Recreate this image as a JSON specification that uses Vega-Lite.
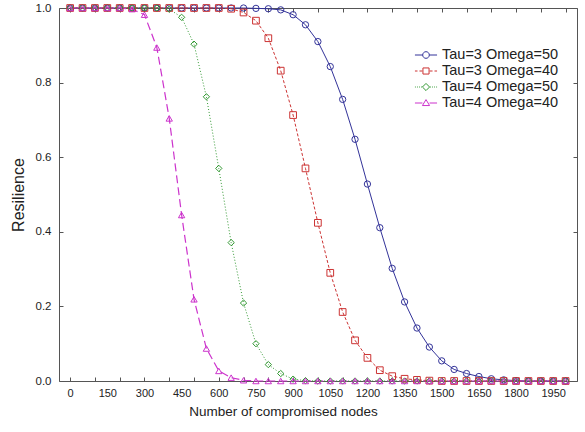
{
  "$schema": "https://vega.github.io/schema/vega-lite/v6.json",
  "width": 518,
  "height": 373,
  "autosize": "none",
  "padding": {"left": 59, "top": 8, "right": 8, "bottom": 51},
  "background": "white",
  "config": {
    "view": {"stroke": "#555555", "strokeWidth": 1},
    "axis": {"grid": false, "domain": false, "tickColor": "#555555", "labelColor": "#222222", "titleColor": "#222222", "labelFont": "Liberation Sans", "labelFontSize": 11, "labelFlush": false, "labelOverlap": false, "titleFontWeight": "normal"}
  },
  "data": {"values": [
    {"nodes":0,"resilience":1,"series":"Tau=3 Omega=50"},{"nodes":50,"resilience":1,"series":"Tau=3 Omega=50"},{"nodes":100,"resilience":1,"series":"Tau=3 Omega=50"},{"nodes":150,"resilience":1,"series":"Tau=3 Omega=50"},{"nodes":200,"resilience":1,"series":"Tau=3 Omega=50"},{"nodes":250,"resilience":1,"series":"Tau=3 Omega=50"},{"nodes":300,"resilience":1,"series":"Tau=3 Omega=50"},{"nodes":350,"resilience":1,"series":"Tau=3 Omega=50"},{"nodes":400,"resilience":1,"series":"Tau=3 Omega=50"},{"nodes":450,"resilience":1,"series":"Tau=3 Omega=50"},{"nodes":500,"resilience":1,"series":"Tau=3 Omega=50"},{"nodes":550,"resilience":1,"series":"Tau=3 Omega=50"},{"nodes":600,"resilience":1,"series":"Tau=3 Omega=50"},{"nodes":650,"resilience":1,"series":"Tau=3 Omega=50"},{"nodes":700,"resilience":1,"series":"Tau=3 Omega=50"},{"nodes":750,"resilience":0.999,"series":"Tau=3 Omega=50"},{"nodes":800,"resilience":0.998,"series":"Tau=3 Omega=50"},{"nodes":850,"resilience":0.995,"series":"Tau=3 Omega=50"},{"nodes":900,"resilience":0.982,"series":"Tau=3 Omega=50"},{"nodes":950,"resilience":0.955,"series":"Tau=3 Omega=50"},{"nodes":1000,"resilience":0.91,"series":"Tau=3 Omega=50"},{"nodes":1050,"resilience":0.843,"series":"Tau=3 Omega=50"},{"nodes":1100,"resilience":0.755,"series":"Tau=3 Omega=50"},{"nodes":1150,"resilience":0.648,"series":"Tau=3 Omega=50"},{"nodes":1200,"resilience":0.528,"series":"Tau=3 Omega=50"},{"nodes":1250,"resilience":0.411,"series":"Tau=3 Omega=50"},{"nodes":1300,"resilience":0.302,"series":"Tau=3 Omega=50"},{"nodes":1350,"resilience":0.212,"series":"Tau=3 Omega=50"},{"nodes":1400,"resilience":0.142,"series":"Tau=3 Omega=50"},{"nodes":1450,"resilience":0.091,"series":"Tau=3 Omega=50"},{"nodes":1500,"resilience":0.054,"series":"Tau=3 Omega=50"},{"nodes":1550,"resilience":0.031,"series":"Tau=3 Omega=50"},{"nodes":1600,"resilience":0.02,"series":"Tau=3 Omega=50"},{"nodes":1650,"resilience":0.012,"series":"Tau=3 Omega=50"},{"nodes":1700,"resilience":0.006,"series":"Tau=3 Omega=50"},{"nodes":1750,"resilience":0.003,"series":"Tau=3 Omega=50"},{"nodes":1800,"resilience":0.001,"series":"Tau=3 Omega=50"},{"nodes":1850,"resilience":0,"series":"Tau=3 Omega=50"},{"nodes":1900,"resilience":0,"series":"Tau=3 Omega=50"},{"nodes":1950,"resilience":0,"series":"Tau=3 Omega=50"},{"nodes":2000,"resilience":0,"series":"Tau=3 Omega=50"},
    {"nodes":0,"resilience":1,"series":"Tau=3 Omega=40"},{"nodes":50,"resilience":1,"series":"Tau=3 Omega=40"},{"nodes":100,"resilience":1,"series":"Tau=3 Omega=40"},{"nodes":150,"resilience":1,"series":"Tau=3 Omega=40"},{"nodes":200,"resilience":1,"series":"Tau=3 Omega=40"},{"nodes":250,"resilience":1,"series":"Tau=3 Omega=40"},{"nodes":300,"resilience":1,"series":"Tau=3 Omega=40"},{"nodes":350,"resilience":1,"series":"Tau=3 Omega=40"},{"nodes":400,"resilience":1,"series":"Tau=3 Omega=40"},{"nodes":450,"resilience":1,"series":"Tau=3 Omega=40"},{"nodes":500,"resilience":1,"series":"Tau=3 Omega=40"},{"nodes":550,"resilience":1,"series":"Tau=3 Omega=40"},{"nodes":600,"resilience":1,"series":"Tau=3 Omega=40"},{"nodes":650,"resilience":0.998,"series":"Tau=3 Omega=40"},{"nodes":700,"resilience":0.988,"series":"Tau=3 Omega=40"},{"nodes":750,"resilience":0.966,"series":"Tau=3 Omega=40"},{"nodes":800,"resilience":0.919,"series":"Tau=3 Omega=40"},{"nodes":850,"resilience":0.832,"series":"Tau=3 Omega=40"},{"nodes":900,"resilience":0.713,"series":"Tau=3 Omega=40"},{"nodes":950,"resilience":0.57,"series":"Tau=3 Omega=40"},{"nodes":1000,"resilience":0.424,"series":"Tau=3 Omega=40"},{"nodes":1050,"resilience":0.29,"series":"Tau=3 Omega=40"},{"nodes":1100,"resilience":0.185,"series":"Tau=3 Omega=40"},{"nodes":1150,"resilience":0.109,"series":"Tau=3 Omega=40"},{"nodes":1200,"resilience":0.062,"series":"Tau=3 Omega=40"},{"nodes":1250,"resilience":0.029,"series":"Tau=3 Omega=40"},{"nodes":1300,"resilience":0.013,"series":"Tau=3 Omega=40"},{"nodes":1350,"resilience":0.006,"series":"Tau=3 Omega=40"},{"nodes":1400,"resilience":0.003,"series":"Tau=3 Omega=40"},{"nodes":1450,"resilience":0.001,"series":"Tau=3 Omega=40"},{"nodes":1500,"resilience":0,"series":"Tau=3 Omega=40"},{"nodes":1550,"resilience":0,"series":"Tau=3 Omega=40"},{"nodes":1600,"resilience":0,"series":"Tau=3 Omega=40"},{"nodes":1650,"resilience":0,"series":"Tau=3 Omega=40"},{"nodes":1700,"resilience":0,"series":"Tau=3 Omega=40"},{"nodes":1750,"resilience":0,"series":"Tau=3 Omega=40"},{"nodes":1800,"resilience":0,"series":"Tau=3 Omega=40"},{"nodes":1850,"resilience":0,"series":"Tau=3 Omega=40"},{"nodes":1900,"resilience":0,"series":"Tau=3 Omega=40"},{"nodes":1950,"resilience":0,"series":"Tau=3 Omega=40"},{"nodes":2000,"resilience":0,"series":"Tau=3 Omega=40"},
    {"nodes":0,"resilience":1,"series":"Tau=4 Omega=50"},{"nodes":50,"resilience":1,"series":"Tau=4 Omega=50"},{"nodes":100,"resilience":1,"series":"Tau=4 Omega=50"},{"nodes":150,"resilience":1,"series":"Tau=4 Omega=50"},{"nodes":200,"resilience":1,"series":"Tau=4 Omega=50"},{"nodes":250,"resilience":1,"series":"Tau=4 Omega=50"},{"nodes":300,"resilience":1,"series":"Tau=4 Omega=50"},{"nodes":350,"resilience":1,"series":"Tau=4 Omega=50"},{"nodes":400,"resilience":0.997,"series":"Tau=4 Omega=50"},{"nodes":450,"resilience":0.975,"series":"Tau=4 Omega=50"},{"nodes":500,"resilience":0.903,"series":"Tau=4 Omega=50"},{"nodes":550,"resilience":0.762,"series":"Tau=4 Omega=50"},{"nodes":600,"resilience":0.57,"series":"Tau=4 Omega=50"},{"nodes":650,"resilience":0.371,"series":"Tau=4 Omega=50"},{"nodes":700,"resilience":0.209,"series":"Tau=4 Omega=50"},{"nodes":750,"resilience":0.1,"series":"Tau=4 Omega=50"},{"nodes":800,"resilience":0.044,"series":"Tau=4 Omega=50"},{"nodes":850,"resilience":0.02,"series":"Tau=4 Omega=50"},{"nodes":900,"resilience":0.005,"series":"Tau=4 Omega=50"},{"nodes":950,"resilience":0.001,"series":"Tau=4 Omega=50"},{"nodes":1000,"resilience":0,"series":"Tau=4 Omega=50"},{"nodes":1050,"resilience":0,"series":"Tau=4 Omega=50"},{"nodes":1100,"resilience":0,"series":"Tau=4 Omega=50"},{"nodes":1150,"resilience":0,"series":"Tau=4 Omega=50"},{"nodes":1200,"resilience":0,"series":"Tau=4 Omega=50"},{"nodes":1250,"resilience":0,"series":"Tau=4 Omega=50"},{"nodes":1300,"resilience":0,"series":"Tau=4 Omega=50"},{"nodes":1350,"resilience":0,"series":"Tau=4 Omega=50"},{"nodes":1400,"resilience":0,"series":"Tau=4 Omega=50"},{"nodes":1450,"resilience":0,"series":"Tau=4 Omega=50"},{"nodes":1500,"resilience":0,"series":"Tau=4 Omega=50"},{"nodes":1550,"resilience":0,"series":"Tau=4 Omega=50"},{"nodes":1600,"resilience":0,"series":"Tau=4 Omega=50"},{"nodes":1650,"resilience":0,"series":"Tau=4 Omega=50"},{"nodes":1700,"resilience":0,"series":"Tau=4 Omega=50"},{"nodes":1750,"resilience":0,"series":"Tau=4 Omega=50"},{"nodes":1800,"resilience":0,"series":"Tau=4 Omega=50"},{"nodes":1850,"resilience":0,"series":"Tau=4 Omega=50"},{"nodes":1900,"resilience":0,"series":"Tau=4 Omega=50"},{"nodes":1950,"resilience":0,"series":"Tau=4 Omega=50"},{"nodes":2000,"resilience":0,"series":"Tau=4 Omega=50"},
    {"nodes":0,"resilience":1,"series":"Tau=4 Omega=40"},{"nodes":50,"resilience":1,"series":"Tau=4 Omega=40"},{"nodes":100,"resilience":1,"series":"Tau=4 Omega=40"},{"nodes":150,"resilience":1,"series":"Tau=4 Omega=40"},{"nodes":200,"resilience":1,"series":"Tau=4 Omega=40"},{"nodes":250,"resilience":0.997,"series":"Tau=4 Omega=40"},{"nodes":300,"resilience":0.982,"series":"Tau=4 Omega=40"},{"nodes":350,"resilience":0.894,"series":"Tau=4 Omega=40"},{"nodes":400,"resilience":0.704,"series":"Tau=4 Omega=40"},{"nodes":450,"resilience":0.445,"series":"Tau=4 Omega=40"},{"nodes":500,"resilience":0.219,"series":"Tau=4 Omega=40"},{"nodes":550,"resilience":0.087,"series":"Tau=4 Omega=40"},{"nodes":600,"resilience":0.027,"series":"Tau=4 Omega=40"},{"nodes":650,"resilience":0.009,"series":"Tau=4 Omega=40"},{"nodes":700,"resilience":0.002,"series":"Tau=4 Omega=40"},{"nodes":750,"resilience":0,"series":"Tau=4 Omega=40"},{"nodes":800,"resilience":0,"series":"Tau=4 Omega=40"},{"nodes":850,"resilience":0,"series":"Tau=4 Omega=40"},{"nodes":900,"resilience":0,"series":"Tau=4 Omega=40"},{"nodes":950,"resilience":0,"series":"Tau=4 Omega=40"},{"nodes":1000,"resilience":0,"series":"Tau=4 Omega=40"},{"nodes":1050,"resilience":0,"series":"Tau=4 Omega=40"},{"nodes":1100,"resilience":0,"series":"Tau=4 Omega=40"},{"nodes":1150,"resilience":0,"series":"Tau=4 Omega=40"},{"nodes":1200,"resilience":0,"series":"Tau=4 Omega=40"},{"nodes":1250,"resilience":0,"series":"Tau=4 Omega=40"},{"nodes":1300,"resilience":0,"series":"Tau=4 Omega=40"},{"nodes":1350,"resilience":0,"series":"Tau=4 Omega=40"},{"nodes":1400,"resilience":0,"series":"Tau=4 Omega=40"},{"nodes":1450,"resilience":0,"series":"Tau=4 Omega=40"},{"nodes":1500,"resilience":0,"series":"Tau=4 Omega=40"},{"nodes":1550,"resilience":0,"series":"Tau=4 Omega=40"},{"nodes":1600,"resilience":0,"series":"Tau=4 Omega=40"},{"nodes":1650,"resilience":0,"series":"Tau=4 Omega=40"},{"nodes":1700,"resilience":0,"series":"Tau=4 Omega=40"},{"nodes":1750,"resilience":0,"series":"Tau=4 Omega=40"},{"nodes":1800,"resilience":0,"series":"Tau=4 Omega=40"},{"nodes":1850,"resilience":0,"series":"Tau=4 Omega=40"},{"nodes":1900,"resilience":0,"series":"Tau=4 Omega=40"},{"nodes":1950,"resilience":0,"series":"Tau=4 Omega=40"},{"nodes":2000,"resilience":0,"series":"Tau=4 Omega=40"}
  ]},
  "layer": [
    {
      "transform": [{"filter": "datum.series === 'Tau=3 Omega=50'"}],
      "mark": {"type": "line", "strokeWidth": 1, "color": "#333399"},
      "encoding": {
        "x": {"field": "nodes", "type": "quantitative", "scale": {"domain": [-45, 2046], "nice": false, "zero": false},
              "axis": {"orient": "bottom", "values": [0,150,300,450,600,750,900,1050,1200,1350,1500,1650,1800,1950], "format": "d", "ticks": false, "labelPadding": 6, "title": "Number of compromised nodes", "titleFont": "Liberation Sans", "titleFontSize": 13.5, "titlePadding": 6, "titleX": 224}},
        "y": {"field": "resilience", "type": "quantitative", "scale": {"domain": [0, 1], "nice": false},
              "axis": {"orient": "left", "values": [0,0.2,0.4,0.6,0.8,1], "format": ".1f", "labelFontSize": 11.5, "tickSize": -4, "labelPadding": 12, "title": "Resilience", "titleFont": "Liberation Sans", "titleFontSize": 16, "titlePadding": 9}}
      }
    },
    {
      "transform": [{"filter": "datum.series === 'Tau=3 Omega=40'"}],
      "mark": {"type": "line", "strokeWidth": 1, "color": "#cc3333", "strokeDash": [3, 2]},
      "encoding": {
        "x": {"field": "nodes", "type": "quantitative", "axis": null},
        "y": {"field": "resilience", "type": "quantitative", "axis": null}
      }
    },
    {
      "transform": [{"filter": "datum.series === 'Tau=4 Omega=50'"}],
      "mark": {"type": "line", "strokeWidth": 1, "color": "#339933", "strokeDash": [1, 2]},
      "encoding": {
        "x": {"field": "nodes", "type": "quantitative", "axis": null},
        "y": {"field": "resilience", "type": "quantitative", "axis": null}
      }
    },
    {
      "transform": [{"filter": "datum.series === 'Tau=4 Omega=40'"}],
      "mark": {"type": "line", "strokeWidth": 1.2, "color": "#cc33cc", "strokeDash": [8, 4]},
      "encoding": {
        "x": {"field": "nodes", "type": "quantitative", "axis": null},
        "y": {"field": "resilience", "type": "quantitative", "axis": null}
      }
    },
    {
      "transform": [{"filter": "datum.series === 'Tau=3 Omega=50'"}],
      "mark": {"type": "point", "shape": "circle", "filled": false, "size": 40, "strokeWidth": 1, "opacity": 1, "color": "#333399"},
      "encoding": {
        "x": {"field": "nodes", "type": "quantitative", "axis": {"orient": "bottom", "values": [0,100,200,300,400,500,600,700,800,900,1000,1100,1200,1300,1400,1500,1600,1700,1800,1900,2000], "labels": false, "tickSize": -4, "title": null}},
        "y": {"field": "resilience", "type": "quantitative", "axis": {"orient": "right", "values": [0,0.2,0.4,0.6,0.8,1], "labels": false, "tickSize": -4, "title": null}}
      }
    },
    {
      "transform": [{"filter": "datum.series === 'Tau=3 Omega=40'"}],
      "mark": {"type": "point", "shape": "square", "filled": false, "size": 45, "strokeWidth": 1, "opacity": 1, "color": "#cc3333"},
      "encoding": {
        "x": {"field": "nodes", "type": "quantitative", "axis": null},
        "y": {"field": "resilience", "type": "quantitative", "axis": null}
      }
    },
    {
      "transform": [{"filter": "datum.series === 'Tau=4 Omega=50'"}],
      "mark": {"type": "point", "shape": "diamond", "filled": false, "size": 40, "strokeWidth": 1, "opacity": 1, "color": "#339933"},
      "encoding": {
        "x": {"field": "nodes", "type": "quantitative", "axis": null},
        "y": {"field": "resilience", "type": "quantitative", "axis": null}
      }
    },
    {
      "transform": [{"filter": "datum.series === 'Tau=4 Omega=40'"}],
      "mark": {"type": "point", "shape": "triangle-up", "filled": false, "size": 40, "strokeWidth": 1, "opacity": 1, "color": "#cc33cc"},
      "encoding": {
        "x": {"field": "nodes", "type": "quantitative", "axis": null},
        "y": {"field": "resilience", "type": "quantitative", "axis": null}
      }
    },
    {
      "transform": [{"filter": "datum.nodes < 0"}],
      "mark": {"type": "point", "filled": false, "strokeWidth": 1, "opacity": 1},
      "encoding": {
        "x": {"field": "nodes", "type": "quantitative", "axis": {"orient": "top", "values": [0,100,200,300,400,500,600,700,800,900,1000,1100,1200,1300,1400,1500,1600,1700,1800,1900,2000], "labels": false, "tickSize": -4, "title": null}},
        "y": {"field": "resilience", "type": "quantitative", "axis": null},
        "color": {"field": "series", "type": "nominal",
          "scale": {"domain": ["Tau=3 Omega=50", "Tau=3 Omega=40", "Tau=4 Omega=50", "Tau=4 Omega=40"], "range": ["#333399", "#cc3333", "#339933", "#cc33cc"]},
          "legend": {"title": null, "orient": "none", "legendX": 358, "legendY": 38, "padding": 0, "rowPadding": 0, "symbolSize": 289, "symbolStrokeWidth": 1, "labelOffset": 7, "labelFont": "Liberation Sans", "labelFontSize": 14.5, "labelColor": "#222222"}},
        "shape": {"field": "series", "type": "nominal",
          "scale": {"domain": ["Tau=3 Omega=50", "Tau=3 Omega=40", "Tau=4 Omega=50", "Tau=4 Omega=40"],
            "range": [
              "M-1.3,0H-0.39M0.39,0H1.3M0.39,0A0.39,0.39 0 1,1 -0.39,0A0.39,0.39 0 1,1 0.39,0Z",
              "M-1.3,0H-1.0M-0.77,0H-0.42M0.42,0H0.77M1.0,0H1.3M-0.36,-0.36H0.36V0.36H-0.36Z",
              "M-1.3,0H-1.2M-1.06,0H-0.96M-0.82,0H-0.72M-0.58,0H-0.48M0.48,0H0.58M0.72,0H0.82M0.96,0H1.06M1.2,0H1.3M0,-0.42L0.42,0L0,0.42L-0.42,0Z",
              "M-1.3,0H-0.42M0.42,0H1.3M0,-0.4L0.42,0.3H-0.42Z"
            ]},
          "legend": {"title": null, "orient": "none", "legendX": 358, "legendY": 38, "padding": 0, "rowPadding": 0, "symbolSize": 289, "symbolStrokeWidth": 1, "labelOffset": 7, "labelFont": "Liberation Sans", "labelFontSize": 14.5, "labelColor": "#222222"}}
      }
    }
  ],
  "resolve": {"axis": {"x": "independent", "y": "independent"}}
}
